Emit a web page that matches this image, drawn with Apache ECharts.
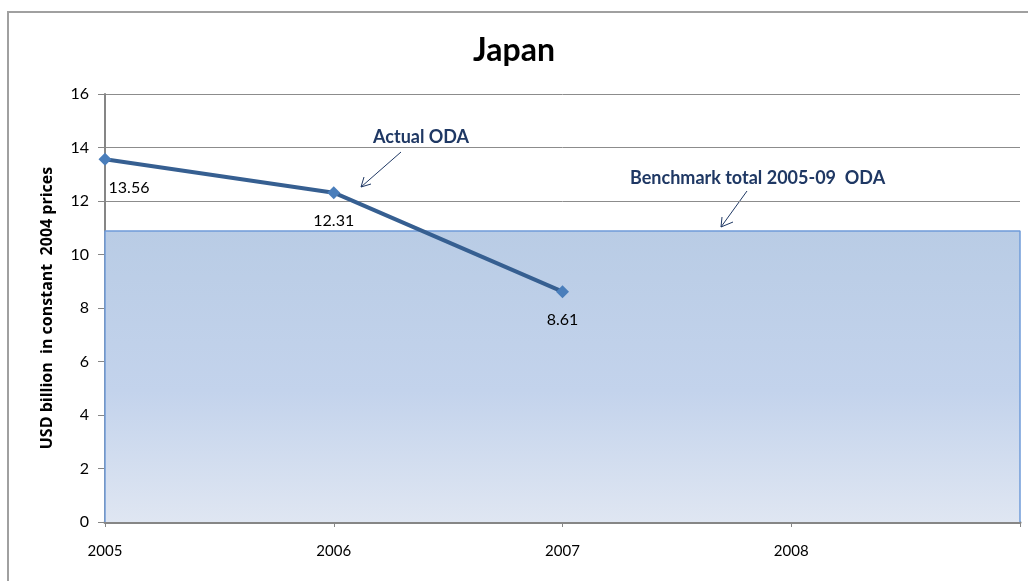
<!DOCTYPE html>
<html>
<head>
<meta charset="utf-8">
<script src="https://cdn.jsdelivr.net/npm/echarts@6/dist/echarts.min.js"></script>
<style>
    html, body { margin: 0; padding: 0; background: #fff; }
    #chart { width: 1028px; height: 581px; }
</style>
</head>
<body>
<div id="chart"></div>
<script>
// data
const years = [2005, 2006, 2007];
const actualOda = [13.56, 12.31, 8.61];
const benchmarkSpan = [2005, 2009];
const benchmarkValue = 10.88;
const xTicks = [2005, 2006, 2007, 2008];

const FONT = 'Lato, "Liberation Sans", sans-serif';

const chart = echarts.init(document.getElementById('chart'));

const benchData = [
    [benchmarkSpan[0], 0],
    [benchmarkSpan[0], benchmarkValue],
    [benchmarkSpan[1], benchmarkValue],
    [benchmarkSpan[1], 0]
];

const odaData = years.map((y, i) => {
    const item = { value: [y, actualOda[i]] };
    if (i === 0) {
        item.label = { offset: [24, 0] };
    }
    return item;
});

const option = {
    animation: false,
    title: {
        text: 'Japan',
        left: 'center',
        top: 30,
        textStyle: {
            fontFamily: FONT,
            fontSize: 32,
            fontWeight: 'bold',
            color: '#000'
        }
    },
    grid: {
        left: 105,
        right: 8,
        top: 94,
        bottom: 59
    },
    xAxis: {
        type: 'value',
        min: 2005,
        max: 2009,
        interval: 1,
        axisLine: {
            show: true,
            lineStyle: { color: '#868686', width: 3 }
        },
        axisTick: {
            show: true,
            length: 5,
            lineStyle: { color: '#868686', width: 1 }
        },
        splitLine: { show: false },
        axisLabel: {
            margin: 22,
            fontFamily: FONT,
            fontSize: 15,
            color: '#000',
            formatter: (v) => (xTicks.indexOf(v) >= 0 ? String(v) : '')
        }
    },
    yAxis: {
        type: 'value',
        min: 0,
        max: 16,
        interval: 2,
        name: 'USD billion  in constant  2004 prices',
        nameLocation: 'middle',
        nameRotate: 90,
        nameGap: 50,
        nameTextStyle: {
            fontFamily: '"Open Sans", Lato, sans-serif',
            fontSize: 16,
            fontWeight: 'bold',
            color: '#000'
        },
        axisLine: {
            show: true,
            lineStyle: { color: '#868686', width: 2 }
        },
        axisTick: {
            show: true,
            length: 7,
            lineStyle: { color: '#868686', width: 1 }
        },
        splitLine: {
            show: true,
            lineStyle: { color: '#8c8c8c', width: 1 }
        },
        axisLabel: {
            margin: 16,
            fontFamily: FONT,
            fontSize: 16,
            color: '#000'
        }
    },
    series: [
        {
            name: 'Benchmark',
            type: 'line',
            data: benchData,
            symbol: 'none',
            silent: true,
            z: 1,
            lineStyle: { color: '#6f9bd9', width: 1.5 },
            areaStyle: {
                origin: 'start',
                opacity: 1,
                color: {
                    type: 'linear',
                    x: 0, y: 0, x2: 0, y2: 1,
                    colorStops: [
                        { offset: 0, color: '#b9cce5' },
                        { offset: 0.55, color: '#c3d3ec' },
                        { offset: 1, color: '#dfe6f2' }
                    ]
                }
            }
        },
        {
            name: 'Actual ODA',
            type: 'line',
            data: odaData,
            z: 3,
            symbol: 'diamond',
            symbolSize: 13,
            itemStyle: { color: '#4a7ebb' },
            lineStyle: { color: '#365f91', width: 4 },
            label: {
                show: true,
                position: 'bottom',
                distance: 14,
                fontFamily: FONT,
                fontSize: 16,
                color: '#000',
                formatter: (p) => p.value[1].toFixed(2)
            }
        }
    ],
    graphic: [
        {
            type: 'rect',
            silent: true,
            shape: { x: 8, y: 12, width: 1100, height: 700 },
            style: { fill: 'none', stroke: '#a0a0a0', lineWidth: 2 }
        },
        {
            type: 'text',
            left: 373,
            top: 128,
            style: {
                text: 'Actual ODA',
                fontFamily: FONT,
                fontSize: 18,
                fontWeight: 'bold',
                fill: '#1f3864'
            }
        },
        {
            type: 'line',
            shape: { x1: 401, y1: 152, x2: 361, y2: 187 },
            style: { stroke: '#1f3864', lineWidth: 1 }
        },
        {
            type: 'polyline',
            shape: { points: [[364, 177], [361, 187], [371, 184]] },
            style: { stroke: '#1f3864', lineWidth: 1, fill: 'none' }
        },
        {
            type: 'text',
            left: 630,
            top: 169,
            style: {
                text: 'Benchmark total 2005-09  ODA',
                fontFamily: FONT,
                fontSize: 18,
                fontWeight: 'bold',
                fill: '#1f3864'
            }
        },
        {
            type: 'line',
            shape: { x1: 747, y1: 191, x2: 721, y2: 227 },
            style: { stroke: '#1f3864', lineWidth: 1 }
        },
        {
            type: 'polyline',
            shape: { points: [[722, 217], [721, 227], [733, 222]] },
            style: { stroke: '#1f3864', lineWidth: 1, fill: 'none' }
        }
    ]
};

chart.setOption(option);
</script>
</body>
</html>
